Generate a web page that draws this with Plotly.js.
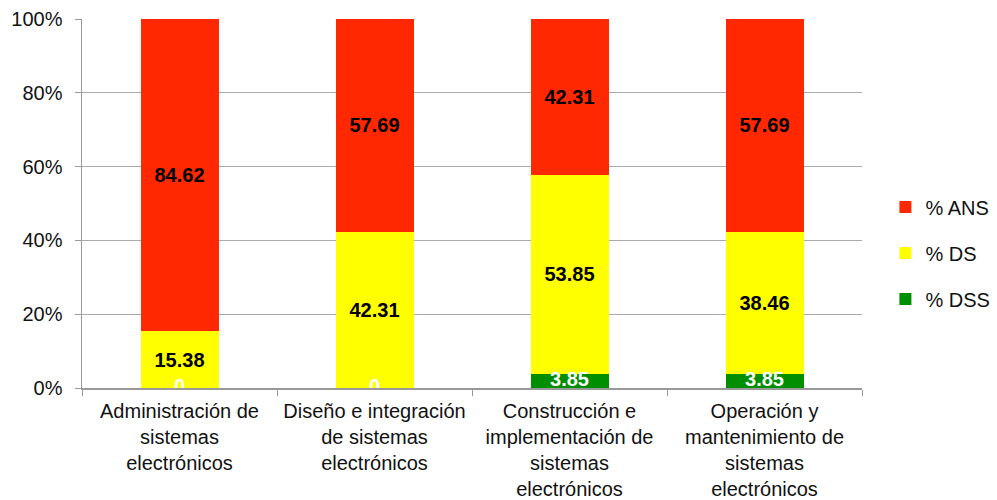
<!DOCTYPE html>
<html><head><meta charset="utf-8">
<script src="https://cdn.plot.ly/plotly-3.0.1.min.js"></script>
<style>body{margin:0;background:#fff}#c{width:997px;height:500px}</style>
</head><body><div id="c"></div>
<script>
const categories = [
  "Administración de<br>sistemas<br>electrónicos",
  "Diseño e integración<br>de sistemas<br>electrónicos",
  "Construcción e<br>implementación de<br>sistemas<br>electrónicos",
  "Operación y<br>mantenimiento de<br>sistemas<br>electrónicos"
];
const dss = [0, 0, 3.85, 3.85];
const ds = [15.38, 42.31, 53.85, 38.46];
const ans = [84.62, 57.69, 42.31, 57.69];
const yTicks = [0, 20, 40, 60, 80, 100];

const FAM = "Liberation Sans, Arial, sans-serif";
const labelFont = {family: FAM, size: 20, color: "#000", weight: "bold"};
function fmt(v){ return v === 0 ? "0" : v.toFixed(2); }

const traces = [
  {type: "bar", name: "% DSS", x: categories, y: dss, marker: {color: "#008F00"},
   legendgroup: "a", legendrank: 3, hoverinfo: "skip"},
  {type: "bar", name: "% DS", x: categories, y: ds, marker: {color: "#FFFF00"},
   text: ds.map(fmt), textposition: "inside", insidetextanchor: "middle",
   textfont: labelFont, constraintext: "none", legendgroup: "b", legendrank: 2},
  {type: "bar", name: "% ANS", x: categories, y: ans, marker: {color: "#FF2800"},
   text: ans.map(fmt), textposition: "inside", insidetextanchor: "middle",
   textfont: labelFont, constraintext: "none", legendgroup: "c", legendrank: 1},
  {type: "scatter", mode: "text", x: categories, y: dss.map(v => v / 2),
   text: dss.map(fmt), textposition: "middle center", showlegend: false,
   textfont: {family: FAM, size: 20, color: "#fff", weight: "bold"},
   cliponaxis: true, hoverinfo: "skip"}
];

const layout = {
  width: 997, height: 500,
  margin: {l: 82, r: 135, t: 19, b: 112, autoexpand: false},
  barmode: "stack", bargap: 0.6,
  paper_bgcolor: "#fff", plot_bgcolor: "#fff",
  font: {family: FAM, size: 20, color: "#111"},
  showlegend: true,
  legend: {x: 1.03, y: 0.366, yanchor: "middle", xanchor: "left",
           traceorder: "grouped", tracegroupgap: 17,
           font: {size: 20, color: "#111"}},
  xaxis: {type: "category", tickson: "boundaries", ticks: "outside", ticklen: 6,
          tickcolor: "#999", showline: true, linecolor: "#999", linewidth: 1.5,
          showgrid: false, fixedrange: true, tickfont: {size: 20},
          ticklabelstandoff: 4},
  yaxis: {range: [0, 100], tickvals: yTicks, ticktext: yTicks.map(v => v + "%"),
          ticks: "outside", ticklen: 6, tickcolor: "#999", showline: true,
          linecolor: "#999", linewidth: 1.5, gridcolor: "#aaa", gridwidth: 1.2,
          zeroline: false, fixedrange: true, tickfont: {size: 20},
          ticklabelstandoff: 8}
};

Plotly.newPlot("c", traces, layout, {displayModeBar: false, staticPlot: true});
</script></body></html>
